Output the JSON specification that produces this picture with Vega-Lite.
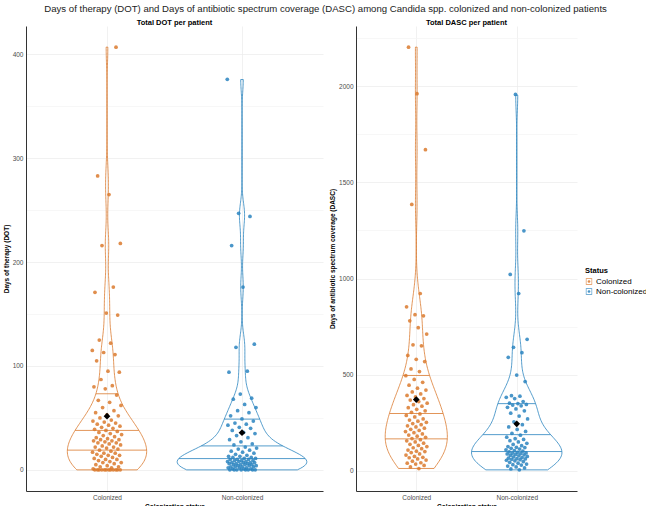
{
  "$schema": "https://vega.github.io/schema/vega-lite/v6.json",
  "padding": {"left": 3, "top": 4, "right": 0, "bottom": 0},
  "title": {"text": "Days of therapy (DOT) and Days of antibiotic spectrum coverage (DASC) among Candida spp. colonized and non-colonized patients", "fontSize": 9.6, "fontWeight": "normal", "color": "#222222", "anchor": "middle", "offset": 5},
  "datasets": {
    "dot": [
      {"status":"Colonized","days":0},{"status":"Colonized","days":0},{"status":"Colonized","days":0},{"status":"Colonized","days":0},{"status":"Colonized","days":0},{"status":"Colonized","days":0},
      {"status":"Colonized","days":0},{"status":"Colonized","days":0},{"status":"Colonized","days":0},{"status":"Colonized","days":0},{"status":"Colonized","days":0},{"status":"Colonized","days":0},
      {"status":"Colonized","days":1},{"status":"Colonized","days":2},{"status":"Colonized","days":3},{"status":"Colonized","days":3},{"status":"Colonized","days":4},{"status":"Colonized","days":5},
      {"status":"Colonized","days":6},{"status":"Colonized","days":7},{"status":"Colonized","days":7},{"status":"Colonized","days":8},{"status":"Colonized","days":9},{"status":"Colonized","days":10},
      {"status":"Colonized","days":10},{"status":"Colonized","days":11},{"status":"Colonized","days":12},{"status":"Colonized","days":13},{"status":"Colonized","days":14},{"status":"Colonized","days":14},
      {"status":"Colonized","days":15},{"status":"Colonized","days":16},{"status":"Colonized","days":16},{"status":"Colonized","days":17},{"status":"Colonized","days":18},{"status":"Colonized","days":19},
      {"status":"Colonized","days":20},{"status":"Colonized","days":21},{"status":"Colonized","days":22},{"status":"Colonized","days":22},{"status":"Colonized","days":23},{"status":"Colonized","days":24},
      {"status":"Colonized","days":25},{"status":"Colonized","days":26},{"status":"Colonized","days":26},{"status":"Colonized","days":27},{"status":"Colonized","days":28},{"status":"Colonized","days":28},
      {"status":"Colonized","days":29},{"status":"Colonized","days":29},
      {"status":"Colonized","days":30},{"status":"Colonized","days":31},{"status":"Colonized","days":32},{"status":"Colonized","days":33},{"status":"Colonized","days":34},{"status":"Colonized","days":35},
      {"status":"Colonized","days":36},{"status":"Colonized","days":37},{"status":"Colonized","days":38},{"status":"Colonized","days":39},{"status":"Colonized","days":40},{"status":"Colonized","days":41},
      {"status":"Colonized","days":42},{"status":"Colonized","days":43},{"status":"Colonized","days":44},{"status":"Colonized","days":45},{"status":"Colonized","days":46},{"status":"Colonized","days":47},
      {"status":"Colonized","days":48},{"status":"Colonized","days":50},{"status":"Colonized","days":52},{"status":"Colonized","days":53},{"status":"Colonized","days":55},{"status":"Colonized","days":57},
      {"status":"Colonized","days":60},{"status":"Colonized","days":62},{"status":"Colonized","days":65},{"status":"Colonized","days":67},{"status":"Colonized","days":72},
      {"status":"Colonized","days":78},{"status":"Colonized","days":80},{"status":"Colonized","days":81},{"status":"Colonized","days":87},{"status":"Colonized","days":94},{"status":"Colonized","days":95},
      {"status":"Colonized","days":105},{"status":"Colonized","days":111},{"status":"Colonized","days":113},{"status":"Colonized","days":115},{"status":"Colonized","days":122},{"status":"Colonized","days":125},
      {"status":"Colonized","days":149},{"status":"Colonized","days":151},{"status":"Colonized","days":171},{"status":"Colonized","days":176},{"status":"Colonized","days":216},{"status":"Colonized","days":218},
      {"status":"Colonized","days":265},{"status":"Colonized","days":283},{"status":"Colonized","days":407},
      {"status":"Non-colonized","days":0},{"status":"Non-colonized","days":0},{"status":"Non-colonized","days":0},{"status":"Non-colonized","days":0},{"status":"Non-colonized","days":0},{"status":"Non-colonized","days":0},
      {"status":"Non-colonized","days":0},{"status":"Non-colonized","days":0},
      {"status":"Non-colonized","days":1},{"status":"Non-colonized","days":1},{"status":"Non-colonized","days":1},{"status":"Non-colonized","days":2},{"status":"Non-colonized","days":2},{"status":"Non-colonized","days":2},
      {"status":"Non-colonized","days":3},{"status":"Non-colonized","days":3},{"status":"Non-colonized","days":3},{"status":"Non-colonized","days":3},{"status":"Non-colonized","days":4},{"status":"Non-colonized","days":4},
      {"status":"Non-colonized","days":4},{"status":"Non-colonized","days":5},{"status":"Non-colonized","days":5},{"status":"Non-colonized","days":5},{"status":"Non-colonized","days":5},{"status":"Non-colonized","days":6},
      {"status":"Non-colonized","days":6},{"status":"Non-colonized","days":6},{"status":"Non-colonized","days":7},{"status":"Non-colonized","days":7},{"status":"Non-colonized","days":7},{"status":"Non-colonized","days":7},
      {"status":"Non-colonized","days":8},{"status":"Non-colonized","days":8},{"status":"Non-colonized","days":8},{"status":"Non-colonized","days":9},{"status":"Non-colonized","days":9},{"status":"Non-colonized","days":9},
      {"status":"Non-colonized","days":10},{"status":"Non-colonized","days":10},{"status":"Non-colonized","days":10},{"status":"Non-colonized","days":11},{"status":"Non-colonized","days":11},{"status":"Non-colonized","days":12},
      {"status":"Non-colonized","days":12},{"status":"Non-colonized","days":13},{"status":"Non-colonized","days":13},{"status":"Non-colonized","days":14},{"status":"Non-colonized","days":15},{"status":"Non-colonized","days":16},
      {"status":"Non-colonized","days":17},{"status":"Non-colonized","days":18},{"status":"Non-colonized","days":19},{"status":"Non-colonized","days":20},{"status":"Non-colonized","days":21},{"status":"Non-colonized","days":22},
      {"status":"Non-colonized","days":24},{"status":"Non-colonized","days":25},{"status":"Non-colonized","days":27},{"status":"Non-colonized","days":29},{"status":"Non-colonized","days":31},{"status":"Non-colonized","days":33},
      {"status":"Non-colonized","days":35},{"status":"Non-colonized","days":36},
      {"status":"Non-colonized","days":38},{"status":"Non-colonized","days":40},{"status":"Non-colonized","days":41},{"status":"Non-colonized","days":43},{"status":"Non-colonized","days":44},{"status":"Non-colonized","days":45},
      {"status":"Non-colonized","days":47},{"status":"Non-colonized","days":49},{"status":"Non-colonized","days":52},{"status":"Non-colonized","days":55},{"status":"Non-colonized","days":57},{"status":"Non-colonized","days":60},
      {"status":"Non-colonized","days":63},{"status":"Non-colonized","days":68},{"status":"Non-colonized","days":69},{"status":"Non-colonized","days":73},
      {"status":"Non-colonized","days":94},{"status":"Non-colonized","days":95},{"status":"Non-colonized","days":118},{"status":"Non-colonized","days":121},{"status":"Non-colonized","days":176},{"status":"Non-colonized","days":216},
      {"status":"Non-colonized","days":244},{"status":"Non-colonized","days":247},{"status":"Non-colonized","days":376}
    ],
    "dasc": [
      {"status":"Colonized","days":12},{"status":"Colonized","days":20},{"status":"Colonized","days":28},{"status":"Colonized","days":35},{"status":"Colonized","days":40},{"status":"Colonized","days":42},
      {"status":"Colonized","days":50},{"status":"Colonized","days":56},{"status":"Colonized","days":62},{"status":"Colonized","days":68},{"status":"Colonized","days":70},{"status":"Colonized","days":75},
      {"status":"Colonized","days":82},{"status":"Colonized","days":88},{"status":"Colonized","days":95},{"status":"Colonized","days":100},{"status":"Colonized","days":102},{"status":"Colonized","days":108},
      {"status":"Colonized","days":115},{"status":"Colonized","days":120},{"status":"Colonized","days":126},{"status":"Colonized","days":132},{"status":"Colonized","days":138},{"status":"Colonized","days":144},
      {"status":"Colonized","days":150},{"status":"Colonized","days":156},{"status":"Colonized","days":162},{"status":"Colonized","days":168},{"status":"Colonized","days":174},{"status":"Colonized","days":180},
      {"status":"Colonized","days":186},{"status":"Colonized","days":192},{"status":"Colonized","days":198},{"status":"Colonized","days":204},{"status":"Colonized","days":210},{"status":"Colonized","days":216},
      {"status":"Colonized","days":222},{"status":"Colonized","days":228},{"status":"Colonized","days":234},{"status":"Colonized","days":240},{"status":"Colonized","days":246},{"status":"Colonized","days":252},
      {"status":"Colonized","days":258},{"status":"Colonized","days":264},{"status":"Colonized","days":270},
      {"status":"Colonized","days":280},{"status":"Colonized","days":288},{"status":"Colonized","days":296},{"status":"Colonized","days":304},{"status":"Colonized","days":312},{"status":"Colonized","days":320},
      {"status":"Colonized","days":328},{"status":"Colonized","days":336},{"status":"Colonized","days":344},{"status":"Colonized","days":352},{"status":"Colonized","days":360},{"status":"Colonized","days":368},
      {"status":"Colonized","days":376},{"status":"Colonized","days":384},{"status":"Colonized","days":392},{"status":"Colonized","days":400},{"status":"Colonized","days":410},{"status":"Colonized","days":420},
      {"status":"Colonized","days":430},{"status":"Colonized","days":445},{"status":"Colonized","days":460},{"status":"Colonized","days":475},{"status":"Colonized","days":495},
      {"status":"Colonized","days":516},{"status":"Colonized","days":530},{"status":"Colonized","days":568},{"status":"Colonized","days":580},{"status":"Colonized","days":600},{"status":"Colonized","days":650},
      {"status":"Colonized","days":655},{"status":"Colonized","days":711},{"status":"Colonized","days":744},{"status":"Colonized","days":780},{"status":"Colonized","days":806},{"status":"Colonized","days":812},
      {"status":"Colonized","days":853},{"status":"Colonized","days":922},{"status":"Colonized","days":1385},{"status":"Colonized","days":1670},{"status":"Colonized","days":1961},{"status":"Colonized","days":2203},
      {"status":"Non-colonized","days":5},{"status":"Non-colonized","days":10},{"status":"Non-colonized","days":15},{"status":"Non-colonized","days":20},{"status":"Non-colonized","days":25},{"status":"Non-colonized","days":30},
      {"status":"Non-colonized","days":32},{"status":"Non-colonized","days":35},{"status":"Non-colonized","days":40},{"status":"Non-colonized","days":44},{"status":"Non-colonized","days":48},{"status":"Non-colonized","days":52},
      {"status":"Non-colonized","days":55},{"status":"Non-colonized","days":58},{"status":"Non-colonized","days":60},{"status":"Non-colonized","days":62},{"status":"Non-colonized","days":63},{"status":"Non-colonized","days":66},
      {"status":"Non-colonized","days":69},{"status":"Non-colonized","days":72},{"status":"Non-colonized","days":75},{"status":"Non-colonized","days":78},{"status":"Non-colonized","days":80},{"status":"Non-colonized","days":83},
      {"status":"Non-colonized","days":85},{"status":"Non-colonized","days":88},{"status":"Non-colonized","days":90},{"status":"Non-colonized","days":92},{"status":"Non-colonized","days":93},{"status":"Non-colonized","days":96},
      {"status":"Non-colonized","days":99},{"status":"Non-colonized","days":102},{"status":"Non-colonized","days":105},{"status":"Non-colonized","days":109},{"status":"Non-colonized","days":113},{"status":"Non-colonized","days":117},
      {"status":"Non-colonized","days":121},{"status":"Non-colonized","days":122},{"status":"Non-colonized","days":126},{"status":"Non-colonized","days":131},{"status":"Non-colonized","days":137},{"status":"Non-colonized","days":143},
      {"status":"Non-colonized","days":150},{"status":"Non-colonized","days":157},{"status":"Non-colonized","days":163},{"status":"Non-colonized","days":167},
      {"status":"Non-colonized","days":175},{"status":"Non-colonized","days":185},{"status":"Non-colonized","days":195},{"status":"Non-colonized","days":205},{"status":"Non-colonized","days":215},{"status":"Non-colonized","days":228},
      {"status":"Non-colonized","days":240},{"status":"Non-colonized","days":255},{"status":"Non-colonized","days":270},{"status":"Non-colonized","days":285},{"status":"Non-colonized","days":300},{"status":"Non-colonized","days":312},
      {"status":"Non-colonized","days":322},{"status":"Non-colonized","days":330},{"status":"Non-colonized","days":338},{"status":"Non-colonized","days":342},
      {"status":"Non-colonized","days":345},{"status":"Non-colonized","days":350},{"status":"Non-colonized","days":352},{"status":"Non-colonized","days":360},{"status":"Non-colonized","days":376},{"status":"Non-colonized","days":382},
      {"status":"Non-colonized","days":388},{"status":"Non-colonized","days":391},{"status":"Non-colonized","days":464},{"status":"Non-colonized","days":498},{"status":"Non-colonized","days":590},{"status":"Non-colonized","days":614},
      {"status":"Non-colonized","days":642},{"status":"Non-colonized","days":684},{"status":"Non-colonized","days":922},{"status":"Non-colonized","days":1021},{"status":"Non-colonized","days":1248},{"status":"Non-colonized","days":1957}
    ]
  },
  "spacing": 6,
  "hconcat": [
    {
      "data": {"name": "dot"},
      "width": 297,
      "height": 465,
      "title": {"text": "Total DOT per patient"},
      "resolve": {"axis": {"y": "independent"}, "scale": {"fill": "independent", "stroke": "independent"}},
      "layer": [
        {
          "transform": [
            {"joinaggregate": [{"op": "min", "field": "days", "as": "lo"}, {"op": "max", "field": "days", "as": "hi"}], "groupby": ["status"]},
            {"density": "days", "groupby": ["status", "lo", "hi"], "steps": 300, "as": ["v", "d"]},
            {"filter": "datum.v >= datum.lo - 1e-9 && datum.v <= datum.hi + 1e-9"},
            {"joinaggregate": [{"op": "max", "field": "d", "as": "dmax"}]},
            {"calculate": "datum.status === 'Colonized' ? 1 : 2", "as": "pos"},
            {"calculate": "datum.pos - 0.48 * datum.d / datum.dmax", "as": "xl"},
            {"calculate": "datum.pos + 0.48 * datum.d / datum.dmax", "as": "xr"}
          ],
          "mark": {"type": "area", "orient": "horizontal", "fillOpacity": 0, "strokeWidth": 0.8},
          "encoding": {
            "y": {"field": "v", "type": "quantitative", "scale": {"domain": [-20.35, 427.35], "nice": false, "zero": false},
                  "axis": {"values": [0, 100, 200, 300, 400], "format": "d", "title": "Days of therapy (DOT)", "grid": true, "orient": "left"}},
            "x": {"field": "xl", "type": "quantitative", "scale": {"domain": [0.4, 2.6], "nice": false, "zero": false},
                  "axis": {"values": [1, 2], "labelExpr": "datum.value === 1 ? 'Colonized' : 'Non-colonized'", "title": "Colonization status", "grid": true}},
            "x2": {"field": "xr"},
            "stroke": {"field": "status", "type": "nominal", "scale": {"domain": ["Colonized", "Non-colonized"], "range": ["#DB7A2E", "#2A84BF"]}, "legend": null}
          }
        },
        {
          "transform": [
            {"joinaggregate": [{"op": "min", "field": "days", "as": "lo"}, {"op": "max", "field": "days", "as": "hi"}], "groupby": ["status"]},
            {"density": "days", "groupby": ["status", "lo", "hi"], "steps": 300, "as": ["v", "d"]},
            {"filter": "datum.v >= datum.lo - 1e-9 && datum.v <= datum.hi + 1e-9"},
            {"joinaggregate": [{"op": "max", "field": "d", "as": "dmax"}]},
            {"calculate": "datum.status === 'Colonized' ? 1 : 2", "as": "pos"},
            {"calculate": "datum.pos - 0.48 * datum.d / datum.dmax", "as": "xl"},
            {"calculate": "datum.pos + 0.48 * datum.d / datum.dmax", "as": "xr"},
            {"window": [{"op": "sum", "field": "d", "as": "cs"}], "groupby": ["status"], "sort": [{"field": "v"}], "frame": [null, 0]},
            {"joinaggregate": [{"op": "sum", "field": "d", "as": "tot"}], "groupby": ["status"]},
            {"calculate": "datum.cs / datum.tot", "as": "c1"},
            {"calculate": "(datum.cs - datum.d) / datum.tot", "as": "c0"},
            {"filter": "(datum.c0 < 0.25 && datum.c1 >= 0.25) || (datum.c0 < 0.5 && datum.c1 >= 0.5) || (datum.c0 < 0.75 && datum.c1 >= 0.75)"}
          ],
          "mark": {"type": "rule", "strokeWidth": 0.8},
          "encoding": {
            "y": {"field": "v", "type": "quantitative", "scale": {"domain": [-20.35, 427.35], "nice": false, "zero": false}, "axis": null},
            "x": {"field": "xl", "type": "quantitative", "scale": {"domain": [0.4, 2.6], "nice": false, "zero": false},
                  "axis": {"values": [1, 2], "labelExpr": "datum.value === 1 ? 'Colonized' : 'Non-colonized'", "title": "Colonization status", "grid": true}},
            "x2": {"field": "xr"},
            "stroke": {"field": "status", "type": "nominal", "scale": {"domain": ["Colonized", "Non-colonized"], "range": ["#DB7A2E", "#2A84BF"]}, "legend": null}
          }
        },
        {
          "transform": [
            {"window": [{"op": "row_number", "as": "rn"}], "groupby": ["status"]},
            {"calculate": "(datum.status === 'Colonized' ? 1 : 2) + 0.11 * (2 * ((datum.rn * 0.6180339887) % 1) - 1)", "as": "jx"}
          ],
          "mark": {"type": "circle", "size": 14, "opacity": 0.85},
          "encoding": {
            "y": {"field": "days", "type": "quantitative", "scale": {"domain": [-20.35, 427.35], "nice": false, "zero": false},
                  "axis": {"values": [50, 150, 250, 350], "orient": "left", "labels": false, "domain": false, "ticks": false, "title": null, "grid": true, "gridColor": "#F4F4F4"}},
            "x": {"field": "jx", "type": "quantitative", "scale": {"domain": [0.4, 2.6], "nice": false, "zero": false},
                  "axis": {"values": [1, 2], "labelExpr": "datum.value === 1 ? 'Colonized' : 'Non-colonized'", "title": "Colonization status", "grid": true}},
            "fill": {"field": "status", "type": "nominal", "scale": {"domain": ["Colonized", "Non-colonized"], "range": ["#DB7A2E", "#2A84BF"]}, "legend": null}
          }
        },
        {
          "transform": [
            {"aggregate": [{"op": "mean", "field": "days", "as": "m"}], "groupby": ["status"]},
            {"calculate": "datum.status === 'Colonized' ? 1 : 2", "as": "pos"}
          ],
          "mark": {"type": "point", "shape": "diamond", "filled": true, "color": "#000000", "size": 45, "opacity": 1},
          "encoding": {
            "y": {"field": "m", "type": "quantitative", "scale": {"domain": [-20.35, 427.35], "nice": false, "zero": false}, "axis": null},
            "x": {"field": "pos", "type": "quantitative", "scale": {"domain": [0.4, 2.6], "nice": false, "zero": false},
                  "axis": {"values": [1, 2], "labelExpr": "datum.value === 1 ? 'Colonized' : 'Non-colonized'", "title": "Colonization status", "grid": true}}
          }
        }
      ]
    },
    {
      "data": {"name": "dasc"},
      "width": 221,
      "height": 465,
      "title": {"text": "Total DASC per patient"},
      "resolve": {"axis": {"y": "independent"}, "scale": {"fill": "independent", "stroke": "independent"}},
      "layer": [
        {
          "transform": [
            {"joinaggregate": [{"op": "min", "field": "days", "as": "lo"}, {"op": "max", "field": "days", "as": "hi"}], "groupby": ["status"]},
            {"density": "days", "groupby": ["status", "lo", "hi"], "steps": 300, "as": ["v", "d"]},
            {"filter": "datum.v >= datum.lo - 1e-9 && datum.v <= datum.hi + 1e-9"},
            {"joinaggregate": [{"op": "max", "field": "d", "as": "dmax"}]},
            {"calculate": "datum.status === 'Colonized' ? 1 : 2", "as": "pos"},
            {"calculate": "datum.pos - 0.45 * datum.d / datum.dmax", "as": "xl"},
            {"calculate": "datum.pos + 0.45 * datum.d / datum.dmax", "as": "xr"}
          ],
          "mark": {"type": "area", "orient": "horizontal", "fillOpacity": 0, "strokeWidth": 0.8},
          "encoding": {
            "y": {"field": "v", "type": "quantitative", "scale": {"domain": [-104.9, 2312.9], "nice": false, "zero": false},
                  "axis": {"values": [0, 500, 1000, 1500, 2000], "format": "d", "title": "Days of antibiotic spectrum coverage (DASC)", "grid": true, "orient": "left"}},
            "x": {"field": "xl", "type": "quantitative", "scale": {"domain": [0.4, 2.6], "nice": false, "zero": false},
                  "axis": {"values": [1, 2], "labelExpr": "datum.value === 1 ? 'Colonized' : 'Non-colonized'", "title": "Colonization status", "grid": true}},
            "x2": {"field": "xr"},
            "stroke": {"field": "status", "type": "nominal", "scale": {"domain": ["Colonized", "Non-colonized"], "range": ["#DB7A2E", "#2A84BF"]}, "legend": null}
          }
        },
        {
          "transform": [
            {"joinaggregate": [{"op": "min", "field": "days", "as": "lo"}, {"op": "max", "field": "days", "as": "hi"}], "groupby": ["status"]},
            {"density": "days", "groupby": ["status", "lo", "hi"], "steps": 300, "as": ["v", "d"]},
            {"filter": "datum.v >= datum.lo - 1e-9 && datum.v <= datum.hi + 1e-9"},
            {"joinaggregate": [{"op": "max", "field": "d", "as": "dmax"}]},
            {"calculate": "datum.status === 'Colonized' ? 1 : 2", "as": "pos"},
            {"calculate": "datum.pos - 0.45 * datum.d / datum.dmax", "as": "xl"},
            {"calculate": "datum.pos + 0.45 * datum.d / datum.dmax", "as": "xr"},
            {"window": [{"op": "sum", "field": "d", "as": "cs"}], "groupby": ["status"], "sort": [{"field": "v"}], "frame": [null, 0]},
            {"joinaggregate": [{"op": "sum", "field": "d", "as": "tot"}], "groupby": ["status"]},
            {"calculate": "datum.cs / datum.tot", "as": "c1"},
            {"calculate": "(datum.cs - datum.d) / datum.tot", "as": "c0"},
            {"filter": "(datum.c0 < 0.25 && datum.c1 >= 0.25) || (datum.c0 < 0.5 && datum.c1 >= 0.5) || (datum.c0 < 0.75 && datum.c1 >= 0.75)"}
          ],
          "mark": {"type": "rule", "strokeWidth": 0.8},
          "encoding": {
            "y": {"field": "v", "type": "quantitative", "scale": {"domain": [-104.9, 2312.9], "nice": false, "zero": false}, "axis": null},
            "x": {"field": "xl", "type": "quantitative", "scale": {"domain": [0.4, 2.6], "nice": false, "zero": false},
                  "axis": {"values": [1, 2], "labelExpr": "datum.value === 1 ? 'Colonized' : 'Non-colonized'", "title": "Colonization status", "grid": true}},
            "x2": {"field": "xr"},
            "stroke": {"field": "status", "type": "nominal", "scale": {"domain": ["Colonized", "Non-colonized"], "range": ["#DB7A2E", "#2A84BF"]}, "legend": null}
          }
        },
        {
          "transform": [
            {"window": [{"op": "row_number", "as": "rn"}], "groupby": ["status"]},
            {"calculate": "(datum.status === 'Colonized' ? 1 : 2) + 0.11 * (2 * ((datum.rn * 0.6180339887) % 1) - 1)", "as": "jx"}
          ],
          "mark": {"type": "circle", "size": 14, "opacity": 0.85},
          "encoding": {
            "y": {"field": "days", "type": "quantitative", "scale": {"domain": [-104.9, 2312.9], "nice": false, "zero": false},
                  "axis": {"values": [250, 750, 1250, 1750, 2250], "orient": "left", "labels": false, "domain": false, "ticks": false, "title": null, "grid": true, "gridColor": "#F4F4F4"}},
            "x": {"field": "jx", "type": "quantitative", "scale": {"domain": [0.4, 2.6], "nice": false, "zero": false},
                  "axis": {"values": [1, 2], "labelExpr": "datum.value === 1 ? 'Colonized' : 'Non-colonized'", "title": "Colonization status", "grid": true}},
            "fill": {"field": "status", "type": "nominal", "scale": {"domain": ["Colonized", "Non-colonized"], "range": ["#DB7A2E", "#2A84BF"]},
                     "legend": {"title": ["", "Status"], "titleLineHeight": 241, "orient": "right", "offset": 8,
                                "symbolType": "M-1,-1L1,-1L1,1L-1,1Z M-0.8,-0.8L-0.8,0.8L0.8,0.8L0.8,-0.8Z M0.42,0.17L0.17,0.42L-0.17,0.42L-0.42,0.17L-0.42,-0.17L-0.17,-0.42L0.17,-0.42L0.42,-0.17Z",
                                "symbolSize": 40}}
          }
        },
        {
          "transform": [
            {"aggregate": [{"op": "mean", "field": "days", "as": "m"}], "groupby": ["status"]},
            {"calculate": "datum.status === 'Colonized' ? 1 : 2", "as": "pos"}
          ],
          "mark": {"type": "point", "shape": "diamond", "filled": true, "color": "#000000", "size": 45, "opacity": 1},
          "encoding": {
            "y": {"field": "m", "type": "quantitative", "scale": {"domain": [-104.9, 2312.9], "nice": false, "zero": false}, "axis": null},
            "x": {"field": "pos", "type": "quantitative", "scale": {"domain": [0.4, 2.6], "nice": false, "zero": false},
                  "axis": {"values": [1, 2], "labelExpr": "datum.value === 1 ? 'Colonized' : 'Non-colonized'", "title": "Colonization status", "grid": true}}
          }
        }
      ]
    }
  ],
  "config": {
    "font": "Liberation Sans",
    "view": {"stroke": null},
    "axis": {"labelFontSize": 6.5, "labelColor": "#4D4D4D", "titleFontSize": 6.5, "titleFontWeight": "bold", "titleColor": "#000000",
             "domainColor": "#333333", "domainWidth": 1, "ticks": false, "gridColor": "#EBEBEB", "gridWidth": 0.7, "labelPadding": 3, "titlePadding": 3},
    "title": {"fontSize": 7.5, "fontWeight": "bold", "color": "#000000", "offset": -0.5},
    "legend": {"titleFontSize": 7.5, "labelFontSize": 8, "titleFontWeight": "bold", "titleColor": "#000000", "labelColor": "#000000",
               "rowPadding": 2, "labelOffset": 3, "titlePadding": 3}
  }
}
